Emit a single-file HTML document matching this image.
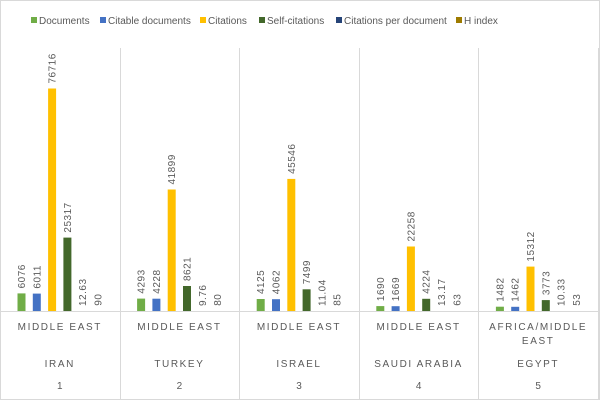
<!DOCTYPE html>
<html><head><meta charset="utf-8"><style>
body{margin:0;background:#fff}
svg{display:block;font-family:"Liberation Sans",sans-serif}
</style></head><body>
<svg id="c" width="600" height="400" viewBox="0 0 600 400"></svg>
<script>
var s=document.getElementById('c'),h='';
h+='<rect x="0.5" y="0.5" width="599" height="399" fill="#fff" stroke="#d9d9d9"/>';
var cols=['#70AD47','#4472C4','#FFC000','#43682B','#264478','#9E7B00'];
var leg=[['Documents',31],['Citable documents',100],['Citations',200],['Self-citations',259],['Citations per document',336],['H index',456]];
leg.forEach(function(l,i){h+='<rect x="'+l[1]+'" y="17" width="6" height="6" fill="'+cols[i]+'"/><text x="'+(l[1]+8)+'" y="24" font-size="10" fill="#595959">'+l[0]+'</text>';});
var data=[[6076,6011,76716,25317,12.63,90],[4293,4228,41899,8621,9.76,80],[4125,4062,45546,7499,11.04,85],[1690,1669,22258,4224,13.17,63],[1482,1462,15312,3773,10.33,53]];
var names=['IRAN','TURKEY','ISRAEL','SAUDI ARABIA','EGYPT'];
var base=311,sc=0.0029,gw=119.6;
for(var g=0;g<=5;g++){var x=Math.round(g*gw)+0.5;if(g==0)x=0.5;if(g==5)x=598.5;h+='<line x1="'+x+'" y1="48" x2="'+x+'" y2="399" stroke="#d9d9d9"/>';}
h+='<line x1="0" y1="'+(base+0.5)+'" x2="600" y2="'+(base+0.5)+'" stroke="#d9d9d9"/>';
data.forEach(function(d,g){
 var gx=g*gw,cx=gx+gw/2;
 d.forEach(function(v,i){
  var bx=gx+17.5+i*15.3,bh=v*sc,top=base-bh;
  if(i<4)h+='<rect x="'+bx.toFixed(1)+'" y="'+top.toFixed(1)+'" width="8" height="'+bh.toFixed(1)+'" fill="'+cols[i]+'"/>';
  var tx=bx+7.5,ty=top-5;
  h+='<text transform="translate('+tx.toFixed(1)+','+ty.toFixed(1)+') rotate(-90)" font-size="10" fill="#595959" letter-spacing="0.5">'+v+'</text>';
 });
 var ls='letter-spacing="1.6" font-size="10" fill="#595959" text-anchor="middle"';
 if(g==4){h+='<text x="'+cx+'" y="330" '+ls+'>AFRICA/MIDDLE</text><text x="'+cx+'" y="344" '+ls+'>EAST</text>';}
 else h+='<text x="'+cx+'" y="330" '+ls+'>MIDDLE EAST</text>';
 h+='<text x="'+cx+'" y="367" '+ls+'>'+names[g]+'</text>';
 h+='<text x="'+cx+'" y="389" font-size="10" fill="#595959" text-anchor="middle">'+(g+1)+'</text>';
});
s.innerHTML=h;
</script>
</body></html>
